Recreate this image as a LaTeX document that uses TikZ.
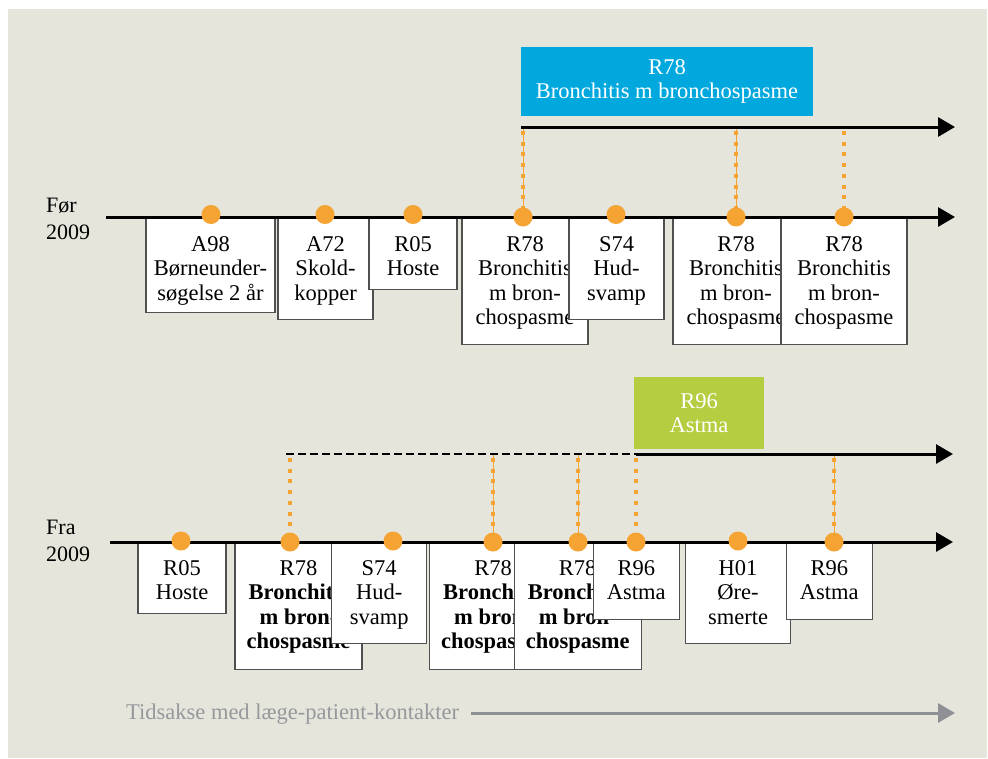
\documentclass[tikz,border=0pt]{standalone}
\usepackage{fontspec}
\setmainfont{Liberation Serif}
\usepackage{tikz}
\usetikzlibrary{arrows.meta,positioning}
\definecolor{bgbeige}{RGB}{229,229,220}
\definecolor{dotorange}{RGB}{245,164,51}
\definecolor{boxblue}{RGB}{0,168,222}
\definecolor{boxgreen}{RGB}{181,205,64}
\definecolor{legendgray}{RGB}{150,152,156}
\definecolor{arrowgray}{RGB}{142,144,150}
\definecolor{cardline}{RGB}{80,80,80}

\begin{document}
\begin{tikzpicture}[x=1pt,y=-1pt,
    axis/.style={line width=3pt,-{Triangle[length=17pt,width=19pt]}},
    dashaxis/.style={line width=2.5pt,dash pattern=on 8pt off 4pt},
    dot/.style={circle,fill=dotorange,minimum size=19pt,inner sep=0pt},
    link/.style={dotorange,line width=4pt,dash pattern=on 4pt off 6.7pt},
    thinlink/.style={dotorange,line width=1pt},
    card/.style={draw=cardline,line width=1.3pt,fill=white,anchor=north,inner sep=0pt},
    cardtext/.style={anchor=north,align=center,inner sep=0pt,font=\fontsize{22.5}{24.5}\selectfont},
    diagbox/.style={text=white,align=center,inner sep=0pt,font=\fontsize{22.5}{24}\selectfont},
    period/.style={anchor=north west,align=left,inner sep=0pt,font=\fontsize{22}{26.5}\selectfont}]
    \useasboundingbox (0,0) rectangle (988,758);
    \fill[white] (0,0) rectangle (988,758);
    \fill[bgbeige] (8,9) rectangle (987,758);

    % Diagnosis boxes
    \node[diagbox,fill=boxblue,minimum width=292pt,minimum height=69pt] (diagR78) at (667,81.5) {R78\\Bronchitis m bronchospasme};
    \node[diagbox,fill=boxgreen,minimum width=130pt,minimum height=72pt] (diagR96) at (699,412.8) {R96\\Astma};

    % Axes end points
    \coordinate (f0) at (106,217); \coordinate (f1) at (955,217);
    \coordinate (u0) at (521,127); \coordinate (u1) at (955,127);
    \coordinate (n0) at (110,542); \coordinate (n1) at (953,542);
    \coordinate (v0) at (286,454); \coordinate (vm) at (636,454); \coordinate (v1) at (953,454);

    % Contact dots
    \foreach \nm/\x/\y in {fA98/211/214.5,fA72/325/214.5,fR05/413/214.5,fR78a/523/217,fS74/616/214.5,fR78b/736/217,fR78c/844/217,
        nR05/181/541,nR78a/290/542,nS74/393/541,nR78b/493/542,nR78c/578/542,nR96a/636/542,nH01/738/541,nR96b/834/542}
        \coordinate (\nm) at (\x,\y);

    % Dotted links to the diagnosis lines
    \foreach \nm in {fR78a,fR78b}
        \draw[thinlink] (\nm |- u0) -- (\nm);
    \foreach \nm in {nR78b,nR78c,nR96b}
        \draw[thinlink] (\nm |- v0) -- (\nm);
    \foreach \nm in {fR78a,fR78b,fR78c}
        \draw[link] ([yshift=-4pt]\nm |- u0) -- (\nm);
    \foreach \nm in {nR78a,nR78b,nR78c,nR96a,nR96b}
        \draw[link] ([yshift=-4pt]\nm |- v0) -- (\nm);

    % Diagnosis lines
    \draw[axis] (u0) -- (u1);
    \draw[dashaxis] (v0) -- (vm);
    \draw[axis] (vm) -- (v1);

    % Cards, Foer 2009
    \foreach \nm/\cx/\w/\h/\txt in {cA98/210.5/129/94/{A98\\Børneunder-\\søgelse 2 år},
        cA72/325.5/95/101/{A72\\Skold-\\kopper},
        cR05/413/88/71/{R05\\Hoste},
        cR78a/525/126/126/{R78\\Bronchitis\\m bron-\\chospasme},
        cS74/616.5/95/101/{S74\\Hud-\\svamp},
        cR78b/736/126/126/{R78\\Bronchitis\\m bron-\\chospasme},
        cR78c/844/126/126/{R78\\Bronchitis\\m bron-\\chospasme}}{
        \node[card,minimum width=\w pt,minimum height=\h pt] (\nm) at (\cx,218) {};
        \node[cardtext] (\nm-t) at ([yshift=-18pt]\nm.north) {\txt};
    }

    % Cards, Fra 2009
    \foreach \nm/\cx/\w/\h/\txt in {dR05/182/88/71/{R05\\Hoste},
        dR78a/298.5/127/127/{R78\\\textbf{Bronchitis}\\\textbf{m bron-}\\\textbf{chospasme}},
        dS74/379.2/95/101/{S74\\Hud-\\svamp},
        dR78b/493/127/127/{R78\\\textbf{Bronchitis}\\\textbf{m bron-}\\\textbf{chospasme}},
        dR78c/577.7/127/127/{R78\\\textbf{Bronchitis}\\\textbf{m bron-}\\\textbf{chospasme}},
        dR96a/636.3/86/77/{R96\\Astma},
        dH01/738/105.5/101/{H01\\Øre-\\smerte},
        dR96b/829.3/86/77/{R96\\Astma}}{
        \node[card,minimum width=\w pt,minimum height=\h pt] (\nm) at (\cx,542) {};
        \node[cardtext] (\nm-t) at ([yshift=-18pt]\nm.north) {\txt};
    }

    % Time axes
    \draw[axis] (f0) -- (f1);
    \draw[axis] (n0) -- (n1);
    \foreach \nm in {fA98,fA72,fR05,fR78a,fS74,fR78b,fR78c,nR05,nR78a,nS74,nR78b,nR78c,nR96a,nH01,nR96b}
        \node[dot] at (\nm) {};

    \node[period] (foer) at (46,198) {Før\\2009};
    \node[period] (fra) at (46,520) {Fra\\2009};

    % Legend
    \node[anchor=base west,inner sep=0pt,text=legendgray,font=\fontsize{22.5}{24}\selectfont] (legend) at (126,719) {Tidsakse med læge-patient-kontakter};
    \coordinate (lend) at (955,713);
    \draw[arrowgray,line width=3pt,-{Triangle[length=17pt,width=19pt]}] ([xshift=12pt]legend.east |- lend) -- (lend);
\end{tikzpicture}
\end{document}
